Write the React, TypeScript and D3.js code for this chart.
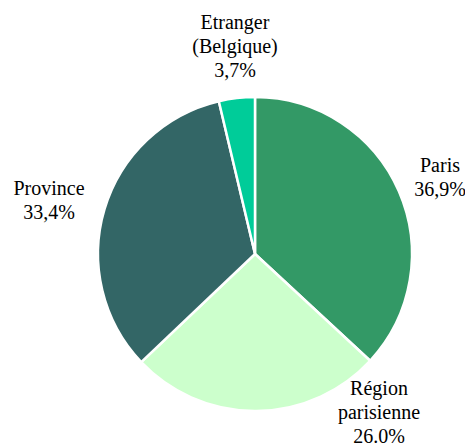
import React from "react";
import * as d3 from "d3";

const categories = ["Paris", "Région parisienne", "Province", "Etranger (Belgique)"];
const values = [36.9, 26.0, 33.4, 3.7];
const labelLines = [
  ["Paris", "36,9%"],
  ["Région", "parisienne", "26.0%"],
  ["Province", "33,4%"],
  ["Etranger", "(Belgique)", "3,7%"],
];
const colors = ["#339966", "#ccffcc", "#336666", "#00cc99"];

// label layout (anchor centre x, first baseline y)
const labelPos = [
  [440, 172],
  [379, 395],
  [49, 195],
  [235, 29],
];

const W = 465;
const H = 446;
const cx = 255;
const cy = 254;
const R = 157;

export default function App() {
  const pie = d3
    .pie<number>()
    .sort(null)
    .value((d) => d)
    .startAngle(0)
    .endAngle(2 * Math.PI);
  const arcs = pie(values);
  const arc = d3.arc<d3.PieArcDatum<number>>().innerRadius(0).outerRadius(R);
  const lh = 24;
  return (
    <svg width={W} height={H} style={{ position: "absolute", left: 0, top: 0, background: "#fff" }}>
      <style>{`.lbl { font-family: "Liberation Serif", Tinos, FreeSerif, "Times New Roman" !important; font-size: 20px; }`}</style>
      <g transform={`translate(${cx},${cy})`}>
        {arcs.map((a, i) => (
          <path key={categories[i]} d={arc(a) || ""} fill={colors[i]} stroke="#fff" strokeWidth={2.5} strokeLinejoin="round" />
        ))}
      </g>
      {labelLines.map((lines, i) =>
        lines.map((l, j) => (
          <text
            key={`${i}-${j}`}
            className="lbl"
            x={labelPos[i][0]}
            y={labelPos[i][1] + j * lh}
            textAnchor="middle"
            fontFamily="Liberation Serif"
            fill="#000"
          >
            {l}
          </text>
        ))
      )}
    </svg>
  );
}
